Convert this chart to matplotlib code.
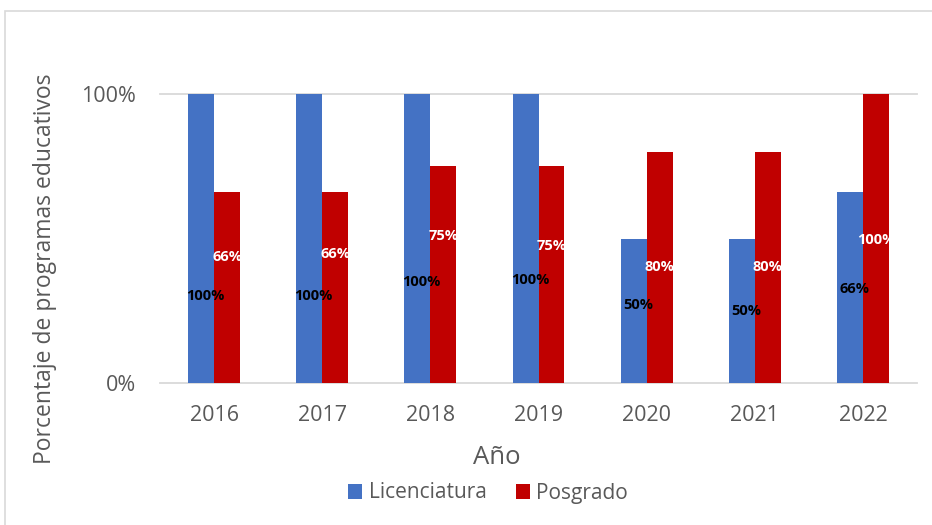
import matplotlib
matplotlib.use('Agg')
import matplotlib.pyplot as plt
import numpy as np
from matplotlib.patches import Rectangle

# datos
years = ['2016', '2017', '2018', '2019', '2020', '2021', '2022']
licenciatura = [100, 100, 100, 100, 50, 50, 66]
posgrado = [66, 66, 75, 75, 80, 80, 100]

# posicion vertical de las etiquetas (fraccion del eje), tal como quedaron en el original
lic_label_pos = [0.30, 0.30, 0.35, 0.355, 0.27, 0.25, 0.325]
pos_label_pos = [0.435, 0.445, 0.51, 0.475, 0.40, 0.40, 0.495]

BLUE = '#4472C4'
RED = '#C00000'
GRAY = '#595959'
LINE = '#D9D9D9'

plt.rcParams['font.family'] = ['Open Sans', 'DejaVu Sans']

fig = plt.figure(figsize=(9.32, 5.25), dpi=100)
ax = fig.add_axes([160 / 932, 1 - 383 / 525, 757 / 932, 289 / 525])

# marco del grafico
fig.patches.append(Rectangle((5 / 932, -0.05), 1.1, 1 - 11 / 525 + 0.05,
                             transform=fig.transFigure, fill=False,
                             ec=LINE, lw=1.2))

x = np.arange(len(years))
w = 0.24
lic = np.array(licenciatura) / 100
pos = np.array(posgrado) / 100

ax.bar(x - w / 2, lic, w, color=BLUE, label='Licenciatura', zorder=2)
ax.bar(x + w / 2, pos, w, color=RED, label='Posgrado', zorder=2)

for yv in [0, 1]:
    ax.axhline(yv, color=LINE, lw=1.3, zorder=1, clip_on=False)

# etiquetas de datos
for i in range(len(years)):
    ax.text(x[i] - w / 2 + 0.04, lic_label_pos[i], f'{licenciatura[i]}%',
            ha='center', va='center', fontsize=10.5, fontweight='bold',
            color='black', zorder=3)
    ax.text(x[i] + w / 2, pos_label_pos[i], f'{posgrado[i]}%',
            ha='center', va='center', fontsize=10.5, fontweight='bold',
            color='white', zorder=3)

ax.set_xlim(-0.5, len(years) - 0.5)
ax.set_ylim(0, 1)
ax.set_xticks(x)
ax.set_xticklabels(years)
ax.set_yticks([0, 1])
ax.set_yticklabels(['0%', '100%'])
ax.tick_params(axis='both', length=0, labelsize=15.5, labelcolor=GRAY)
ax.tick_params(axis='x', pad=16)
ax.tick_params(axis='y', pad=17)
for s in ax.spines.values():
    s.set_visible(False)

fig.text(497 / 932, 1 - 457 / 525, 'Año', ha='center', va='center',
         fontsize=18.5, color=GRAY)
fig.text(45 / 932, 1 - 269 / 525, 'Porcentaje de programas educativos',
         rotation=90, ha='center', va='center', fontsize=16.5, color=GRAY)

fig.legend(loc='center', bbox_to_anchor=(488 / 932, 1 - 493 / 525),
           ncol=2, frameon=False, fontsize=15, labelcolor=GRAY,
           handlelength=0.7, handleheight=0.7, handletextpad=0.3,
           columnspacing=1.4)

fig.savefig('out.png', dpi=100)
